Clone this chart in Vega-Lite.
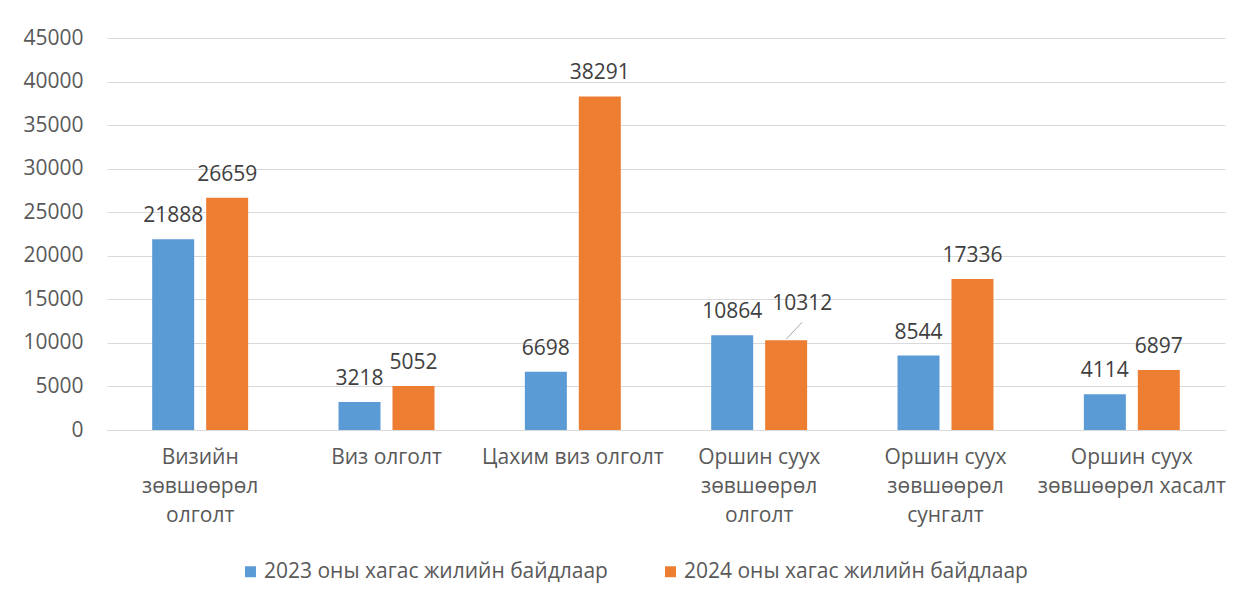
{
  "$schema": "https://vega.github.io/schema/vega-lite/v6.json",
  "autosize": {"type": "none"},
  "width": 1118,
  "height": 392,
  "padding": {"left": 107, "top": 38, "right": 16, "bottom": 174},
  "background": "white",
  "config": {
    "font": "Open Sans",
    "view": {"stroke": null},
    "axis": {"labelFont": "Open Sans", "labelColor": "#595959", "labelFontSize": 21}
  },
  "data": {
    "values": [
      {"category": "Визийн\nзөвшөөрөл\nолголт", "series": "2023 оны хагас жилийн байдлаар", "value": 21888},
      {"category": "Визийн\nзөвшөөрөл\nолголт", "series": "2024 оны хагас жилийн байдлаар", "value": 26659},
      {"category": "Виз олголт", "series": "2023 оны хагас жилийн байдлаар", "value": 3218},
      {"category": "Виз олголт", "series": "2024 оны хагас жилийн байдлаар", "value": 5052},
      {"category": "Цахим виз олголт", "series": "2023 оны хагас жилийн байдлаар", "value": 6698},
      {"category": "Цахим виз олголт", "series": "2024 оны хагас жилийн байдлаар", "value": 38291},
      {"category": "Оршин суух\nзөвшөөрөл\nолголт", "series": "2023 оны хагас жилийн байдлаар", "value": 10864},
      {"category": "Оршин суух\nзөвшөөрөл\nолголт", "series": "2024 оны хагас жилийн байдлаар", "value": 10312},
      {"category": "Оршин суух\nзөвшөөрөл\nсунгалт", "series": "2023 оны хагас жилийн байдлаар", "value": 8544},
      {"category": "Оршин суух\nзөвшөөрөл\nсунгалт", "series": "2024 оны хагас жилийн байдлаар", "value": 17336},
      {"category": "Оршин суух\nзөвшөөрөл хасалт", "series": "2023 оны хагас жилийн байдлаар", "value": 4114},
      {"category": "Оршин суух\nзөвшөөрөл хасалт", "series": "2024 оны хагас жилийн байдлаар", "value": 6897}
    ]
  },
  "encoding": {
    "x": {
      "field": "category", "type": "nominal", "sort": null,
      "scale": {"paddingInner": 0.485, "paddingOuter": 0.2425},
      "axis": {
        "title": null, "labelAngle": 0, "ticks": false, "domainColor": "#D9D9D9", "domainWidth": 1,
        "labelPadding": 16, "labelLineHeight": 29, "labelBaseline": "top",
        "labelExpr": "split(datum.value, '\\n')", "labelLimit": 300
      }
    },
    "xOffset": {"field": "series", "type": "nominal", "scale": {"paddingInner": 0.222}},
    "y": {
      "field": "value", "type": "quantitative",
      "scale": {"domain": [0, 45000]},
      "axis": {
        "title": null, "values": [0,5000,10000,15000,20000,25000,30000,35000,40000,45000],
        "labelOverlap": false, "labelBaseline": "middle",
        "domain": false, "ticks": false, "gridColor": "#D9D9D9", "gridWidth": 1,
        "labelPadding": 24, "format": "d"
      }
    }
  },
  "layer": [
    {
      "mark": {"type": "bar"},
      "encoding": {
        "color": {
          "field": "series", "type": "nominal",
          "scale": {"range": ["#5B9BD5", "#ED7D31"]},
          "legend": {
            "title": null, "orient": "none", "legendX": 133, "legendY": 523,
            "direction": "horizontal", "symbolType": "square", "symbolSize": 120,
            "symbolStrokeWidth": 0, "labelFontSize": 21, "labelColor": "#595959",
            "labelFont": "Open Sans", "columnPadding": 52, "labelOffset": 3, "labelLimit": 500
          }
        }
      }
    },
    {
      "transform": [{"filter": "datum.value != 10312"}],
      "mark": {"type": "text", "dy": -17, "baseline": "alphabetic", "fontSize": 21, "color": "#404040"},
      "encoding": {"text": {"field": "value", "type": "quantitative", "format": "d"}}
    },
    {
      "transform": [{"filter": "datum.value == 10312"}],
      "mark": {"type": "text", "dy": -30, "dx": 16, "baseline": "alphabetic", "fontSize": 21, "color": "#404040"},
      "encoding": {"text": {"field": "value", "type": "quantitative", "format": "d"}}
    },
    {
      "transform": [{"filter": "datum.value == 10312"}],
      "mark": {"type": "rule", "color": "#A6A6A6", "strokeWidth": 1, "xOffset": 1, "x2Offset": 43, "yOffset": -1, "y2Offset": -18},
      "encoding": {
        "x2": {"field": "category"},
        "y2": {"field": "value"}
      }
    }
  ]
}
